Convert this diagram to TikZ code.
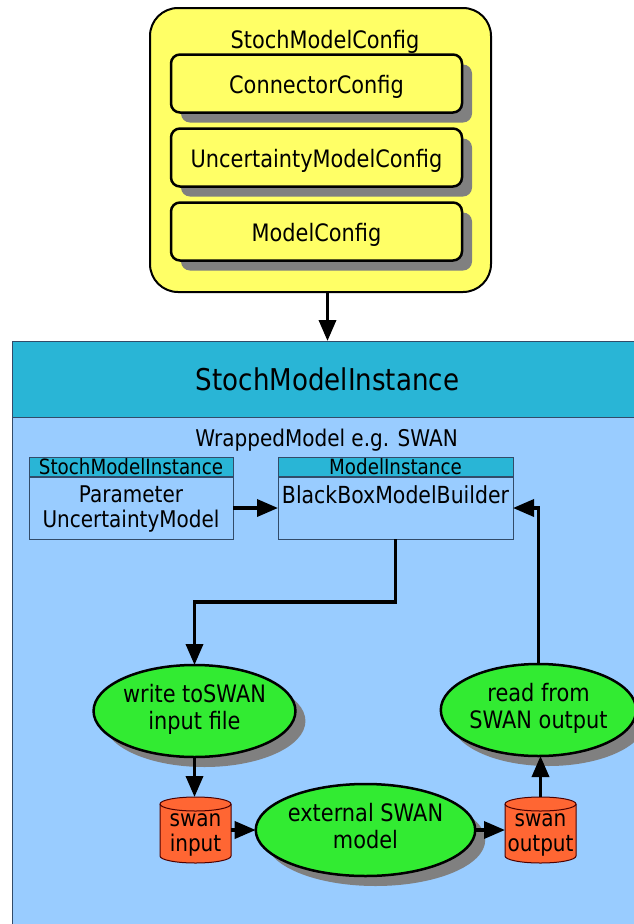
\documentclass[tikz,border=0pt]{standalone}
\usepackage{fontspec}
\setmainfont[FakeStretch=0.87]{DejaVu Sans}
\usetikzlibrary{shapes.geometric,shadows,arrows.meta,calc}
\definecolor{yel}{RGB}{255,255,102}
\definecolor{grn}{RGB}{50,235,50}
\definecolor{org}{RGB}{255,102,51}
\definecolor{cyanc}{RGB}{41,181,214}
\definecolor{lblue}{RGB}{153,204,255}
\definecolor{shd}{RGB}{128,128,128}
\definecolor{frame}{RGB}{50,75,105}
\newcommand{\mycyl}[1]{%
  \filldraw[cylst] ([yshift=-7pt]#1.north west) -- ([yshift=7pt]#1.south west)
    arc[start angle=180,end angle=360,x radius=35.5pt,y radius=7pt]
    -- ([yshift=-7pt]#1.north east)
    arc[start angle=0,end angle=180,x radius=35.5pt,y radius=7pt] -- cycle;
  \draw[cylst,fill=none] ([yshift=-7pt]#1.north west)
    arc[start angle=180,end angle=360,x radius=35.5pt,y radius=7pt];}
\begin{document}
\begin{tikzpicture}[x=1pt,y=-1pt,
  every node/.style={font=\fontsize{24}{27}\selectfont, inner sep=0pt, outer sep=0pt},
  conn/.style={line width=3.5pt, -{Triangle[length=21pt,width=17pt]}},
  shadowed/.style={drop shadow={shadow xshift=10pt, shadow yshift=-10pt, fill=shd, opacity=1}},
  cfgbox/.style={draw, line width=2.5pt, fill=yel, rounded corners=9pt,
    minimum width=291pt, minimum height=58pt, text height=24pt, text depth=4pt, shadowed},
  oval/.style={ellipse, draw, line width=2.5pt, fill=grn, minimum width=189pt,
    minimum height=92pt, align=center, shadowed},
  cylbox/.style={minimum width=71pt, minimum height=66pt},
  cylst/.style={draw=black!70!red, line width=1pt, fill=org},
  smallhead/.style={draw=frame, line width=1pt, fill=cyanc, anchor=north west,
    minimum height=20pt, font=\fontsize{21}{23}\selectfont},
  smallbody/.style={draw=frame, line width=1pt, fill=lblue, anchor=north west,
    minimum height=62pt}
]
\useasboundingbox (0,0) rectangle (633,924);
\fill[white] (0,0) rectangle (633,924);

% --- StochModelConfig ---
\node[draw, line width=2pt, fill=yel, rounded corners=28pt, anchor=north west,
  minimum width=341pt, minimum height=284pt] (cfg) at (150,8) {};
\node[anchor=base] (cfgtitle) at (325,48) {StochModelConfig};
\node[cfgbox] (conn) at (316.5,83.5) {ConnectorConfig};
\node[cfgbox] (unc) at (316.5,157.5) {UncertaintyModelConfig};
\node[cfgbox] (mod) at (316.5,231.5) {ModelConfig};

% --- StochModelInstance container ---
\node[draw=frame, line width=1pt, fill=lblue, anchor=north west,
  minimum width=631pt, minimum height=590pt] (inst) at (12,341) {};
\node[draw=frame, line width=1pt, fill=cyanc, anchor=north west,
  minimum width=631pt, minimum height=76pt, font=\fontsize{30}{32}\selectfont]
  (insthead) at (12,341) {StochModelInstance};
\node[anchor=base, font=\fontsize{23}{25}\selectfont] (wrapped) at (326.5,446)
  {WrappedModel e.g. SWAN};

\draw[conn] (cfg.south -| insthead.north) -- (insthead.north);

% --- small boxes ---
\node[smallbody, minimum width=204pt] (lb) at (29,477) {};
\node[smallhead, minimum width=204pt] (lh) at (29,457) {StochModelInstance};
\node[align=center, font=\fontsize{23}{25}\selectfont] (ltext) at (131,510)
  {\strut Parameter\\\strut UncertaintyModel};
\node[smallbody, minimum width=235pt] (rb) at (278,477) {};
\node[smallhead, minimum width=235pt] (rh) at (278,457) {ModelInstance};
\node[anchor=base, font=\fontsize{23.5}{25}\selectfont] (rtext) at (395.5,503)
  {BlackBoxModelBuilder};
\draw[frame, line width=2pt] (lh.south west) -- (lh.south east);
\draw[frame, line width=2pt] (rh.south west) -- (rh.south east);

% --- process nodes ---
\node[oval] (write) at (194.5,711) {\strut write toSWAN\\\strut input file};
\node[oval] (read) at (538.5,710) {\strut read from\\\strut SWAN output};
\node[oval] (ext) at (365.5,830) {\strut external SWAN\\\strut model};

\node[cylbox] (sin) at (195.5,830) {};
\node[cylbox] (sout) at (540.5,830) {};
\mycyl{sin}
\mycyl{sout}
\node[align=center, font=\fontsize{23}{25}\selectfont] (sintext) at ([yshift=-4pt]sin.center)
  {\strut swan\\\strut input};
\node[align=center, font=\fontsize{23}{25}\selectfont] (souttext) at ([yshift=-4pt]sout.center)
  {\strut swan\\\strut output};

% --- connectors ---
\coordinate (bend) at (0,602);
\draw[conn] (lb.east) -- (rb.west);
\draw[conn] (rb.south) -- (rb.south |- bend) -| (write.north);
\draw[conn] (read.north) |- (rb.east);
\draw[conn] (write.south) -- (write.south |- sin.north);
\draw[conn] (sin.east) -- (ext.west);
\draw[conn] (ext.east) -- (sout.west);
\draw[conn] (sout.north) -- (sout.north |- read.south);
\end{tikzpicture}
\end{document}
